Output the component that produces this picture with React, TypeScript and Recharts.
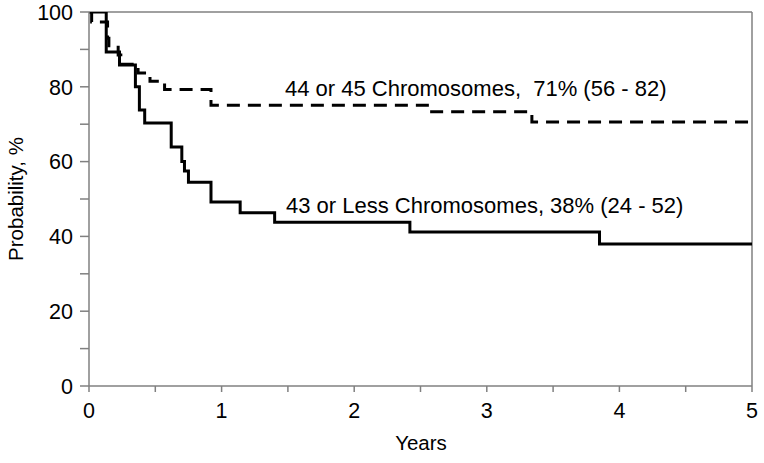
import React from 'react';
import { LineChart, Line, XAxis, YAxis, ReferenceLine } from 'recharts';

// Kaplan-Meier style step data (years, probability %)
const lowTimes = [0, 0.13, 0.23, 0.35, 0.38, 0.42, 0.62, 0.70, 0.72, 0.75, 0.92, 1.14, 1.40, 2.42, 3.85, 5.0];
const lowProb = [100, 89.3, 85.8, 80, 73.8, 70.3, 63.9, 60, 57.5, 54.5, 49.2, 46.3, 43.8, 41.2, 38, 38];

const highTimes = [0, 0.02, 0.14, 0.15, 0.22, 0.24, 0.37, 0.46, 0.57, 0.92, 2.57, 3.34, 5.0];
const highProb = [100, 97.3, 93, 91, 88.5, 86, 83.7, 81.5, 79.3, 75.1, 73.3, 70.6, 70.6];

const yTicks = [0, 10, 20, 30, 40, 50, 60, 70, 80, 90, 100];
const xTicks = [0, 0.5, 1, 1.5, 2, 2.5, 3, 3.5, 4, 4.5, 5];

const highLabel = '44 or 45 Chromosomes,  71% (56 - 82)';
const lowLabel = '43 or Less Chromosomes, 38% (24 - 52)';
const xTitle = 'Years';
const yTitle = 'Probability, %';

const lowData = lowTimes.map((t, i) => ({ t, p: lowProb[i] }));
const highData = highTimes.map((t, i) => ({ t, p: highProb[i] }));

const FONT = '"Liberation Sans", Arial, sans-serif';
const AXIS = '#808080';

const YTick = (props: any) => {
  const { x, y, payload } = props;
  if (payload.value % 20 !== 0) return null;
  return (
    <text x={x} y={y} dy="0.36em" textAnchor="end" fontFamily={FONT} fontSize={21.5} fill="#000">
      {payload.value}
    </text>
  );
};

const XTick = (props: any) => {
  const { x, y, payload } = props;
  if (payload.value % 1 !== 0) return null;
  return (
    <text x={x} y={y} dy="0.72em" textAnchor="middle" fontFamily={FONT} fontSize={21.5} fill="#000">
      {payload.value}
    </text>
  );
};

export default function App() {
  return (
    <div style={{ position: 'absolute', left: 0, top: 0, background: '#fff' }}>
      <LineChart width={764} height={463} margin={{ top: 12, right: 12, left: 0, bottom: 0 }}>
        <XAxis
          type="number"
          dataKey="t"
          domain={[0, 5]}
          ticks={xTicks}
          interval={0}
          height={77}
          tickSize={6}
          tickMargin={11}
          stroke={AXIS}
          axisLine={{ stroke: AXIS, strokeWidth: 1.5 }}
          tickLine={{ stroke: AXIS, strokeWidth: 1.5 }}
          tick={<XTick />}
          allowDataOverflow
        />
        <YAxis
          type="number"
          dataKey="p"
          domain={[0, 100]}
          ticks={yTicks}
          interval={0}
          width={89}
          tickSize={9}
          tickMargin={7}
          stroke={AXIS}
          axisLine={{ stroke: AXIS, strokeWidth: 1.5 }}
          tickLine={{ stroke: AXIS, strokeWidth: 1.5 }}
          tick={<YTick />}
          allowDataOverflow
        />
        <ReferenceLine y={100} stroke={AXIS} strokeWidth={1.5} />
        <ReferenceLine x={5} stroke={AXIS} strokeWidth={1.5} />
        <Line
          data={highData}
          dataKey="p"
          type="stepAfter"
          stroke="#000"
          strokeWidth={3}
          strokeDasharray="13 8"
          dot={false}
          isAnimationActive={false}
        />
        <Line
          data={lowData}
          dataKey="p"
          type="stepAfter"
          stroke="#000"
          strokeWidth={3}
          dot={false}
          isAnimationActive={false}
        />
        <text x={285} y={96} fontFamily={FONT} fontSize={22} fill="#000" style={{ whiteSpace: 'pre' }}>
          {highLabel}
        </text>
        <text x={286} y={213} fontFamily={FONT} fontSize={22} fill="#000">
          {lowLabel}
        </text>
        <text x={421} y={450} textAnchor="middle" fontFamily={FONT} fontSize={20.5} fill="#000">
          {xTitle}
        </text>
        <text
          x={0}
          y={0}
          transform="translate(23,199) rotate(-90)"
          textAnchor="middle"
          fontFamily={FONT}
          fontSize={20.5}
          fill="#000"
        >
          {yTitle}
        </text>
      </LineChart>
    </div>
  );
}
